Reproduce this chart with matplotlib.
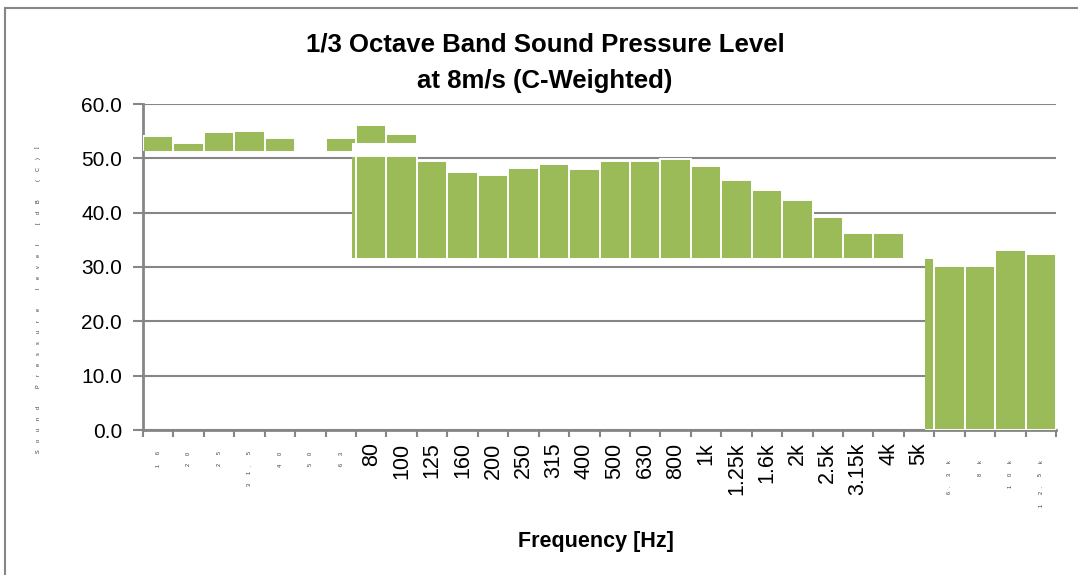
import matplotlib
matplotlib.use("Agg")
import matplotlib.pyplot as plt
from matplotlib.patches import Rectangle
from matplotlib.transforms import blended_transform_factory, ScaledTranslation

plt.rcParams['font.family'] = ['Liberation Sans', 'DejaVu Sans']

# 1/3 octave band centre frequencies and SPL in dB(C)
bands = ['16', '20', '25', '31.5', '40', '50', '63',
         '80', '100', '125', '160', '200', '250', '315', '400', '500', '630', '800',
         '1k', '1.25k', '1.6k', '2k', '2.5k', '3.15k', '4k', '5k',
         '6.3k', '8k', '10k', '12.5k']
spl = [54.1, 52.9, 54.8, 55.0, 53.8, 51.0, 53.8,
       56.1, 54.5, 49.6, 47.5, 47.0, 48.3, 49.0, 48.1, 49.6, 49.6, 49.9,
       48.6, 46.0, 44.2, 42.3, 39.2, 36.2, 36.2, 31.7,
       30.2, 30.2, 33.1, 32.4]
# bands whose tick label came out tiny in the original render
tiny_labels = ['16', '20', '25', '31.5', '40', '50', '63',
               '6.3k', '8k', '10k', '12.5k']
yticks = [0, 10, 20, 30, 40, 50, 60]

GREEN = '#9bbb59'
GREY = '#868686'

fig = plt.figure(figsize=(10.78, 5.75), dpi=100)
ax = fig.add_axes([143 / 1078, 1 - 430 / 575, 913 / 1078, 326 / 575])

x = list(range(len(bands)))

# the source image was stitched from tiles that each show a different slice
# of the bars, so draw the bars once per tile and clip them to it
tiles = [(-0.5, 6.37, 51.4, 60.0),
         (6.37, 8.6, 52.8, 60.0),
         (6.37, 25.2, 31.6, 50.3),
         (25.2, 29.5, 0.0, 60.0)]
for x0, x1, y0, y1 in tiles:
    bars = ax.bar(x, spl, width=1.0, color=GREEN, edgecolor='white',
                  linewidth=1.4, zorder=3)
    clip = Rectangle((x0, y0), x1 - x0, y1 - y0, transform=ax.transData)
    for b in bars:
        b.set_clip_path(clip)

ax.set_xlim(-0.5, len(bands) - 0.5)
ax.set_ylim(0, 60)
ax.set_yticks(yticks)
ax.set_yticklabels(['%.1f' % v for v in yticks], fontsize=15)
ax.yaxis.grid(True, color=GREY, linewidth=1.5, zorder=0)
ax.set_axisbelow(True)

ax.set_xticks([i - 0.5 for i in x] + [len(bands) - 0.5], minor=True)
ax.set_xticks(x)
ax.set_xticklabels(['' if b in tiny_labels else b for b in bands],
                   rotation=90, fontsize=15.5)
ax.tick_params(axis='x', which='major', length=0, pad=9)
ax.tick_params(axis='x', which='minor', length=5, width=1.5, color=GREY)
ax.tick_params(axis='y', length=7, width=1.5, color=GREY, pad=8)

for s in ['top', 'right']:
    ax.spines[s].set_visible(False)
for s in ['left', 'bottom']:
    ax.spines[s].set_color(GREY)
    ax.spines[s].set_linewidth(2)

# tiny tick labels, one glyph at a time, spaced like the normal ones
trans = blended_transform_factory(ax.transData, ax.transAxes)
for i, b in enumerate(bands):
    if b not in tiny_labels:
        continue
    off = 23 if i < 10 else 32
    for ch in reversed(b):
        t = trans + ScaledTranslation(0, -off / 100, fig.dpi_scale_trans)
        ax.text(i, 0, ch, transform=t, rotation=90, fontsize=4,
                color='#333333', ha='center', va='center', clip_on=False)
        off += 7 if ch == '.' else 12

# y label, also rendered tiny and spread out in the original
ylab = 'Sound Pressure level [dB (C)]'
step = (451 - 147) / (len(ylab) - 1)
for k, ch in enumerate(ylab):
    fig.text(38 / 1078, 1 - (451 - k * step) / 575, ch, rotation=90,
             fontsize=4, color='#333333', ha='center', va='center')

fig.text(545 / 1078, 1 - 52 / 575, '1/3 Octave Band Sound Pressure Level',
         fontsize=18.5, fontweight='bold', ha='center', va='baseline')
fig.text(545 / 1078, 1 - 88 / 575, 'at 8m/s (C-Weighted)',
         fontsize=18.5, fontweight='bold', ha='center', va='baseline')
fig.text(596 / 1078, 1 - 547 / 575, 'Frequency [Hz]',
         fontsize=15.5, fontweight='bold', ha='center', va='baseline')

# chart border (left and top edges are all that show)
fig.patches.append(Rectangle((5 / 1078, -0.1), 1.5, 1.1 - 8 / 575,
                             transform=fig.transFigure, fill=False,
                             edgecolor=GREY, linewidth=1.5))

fig.savefig('out.png', dpi=100)
